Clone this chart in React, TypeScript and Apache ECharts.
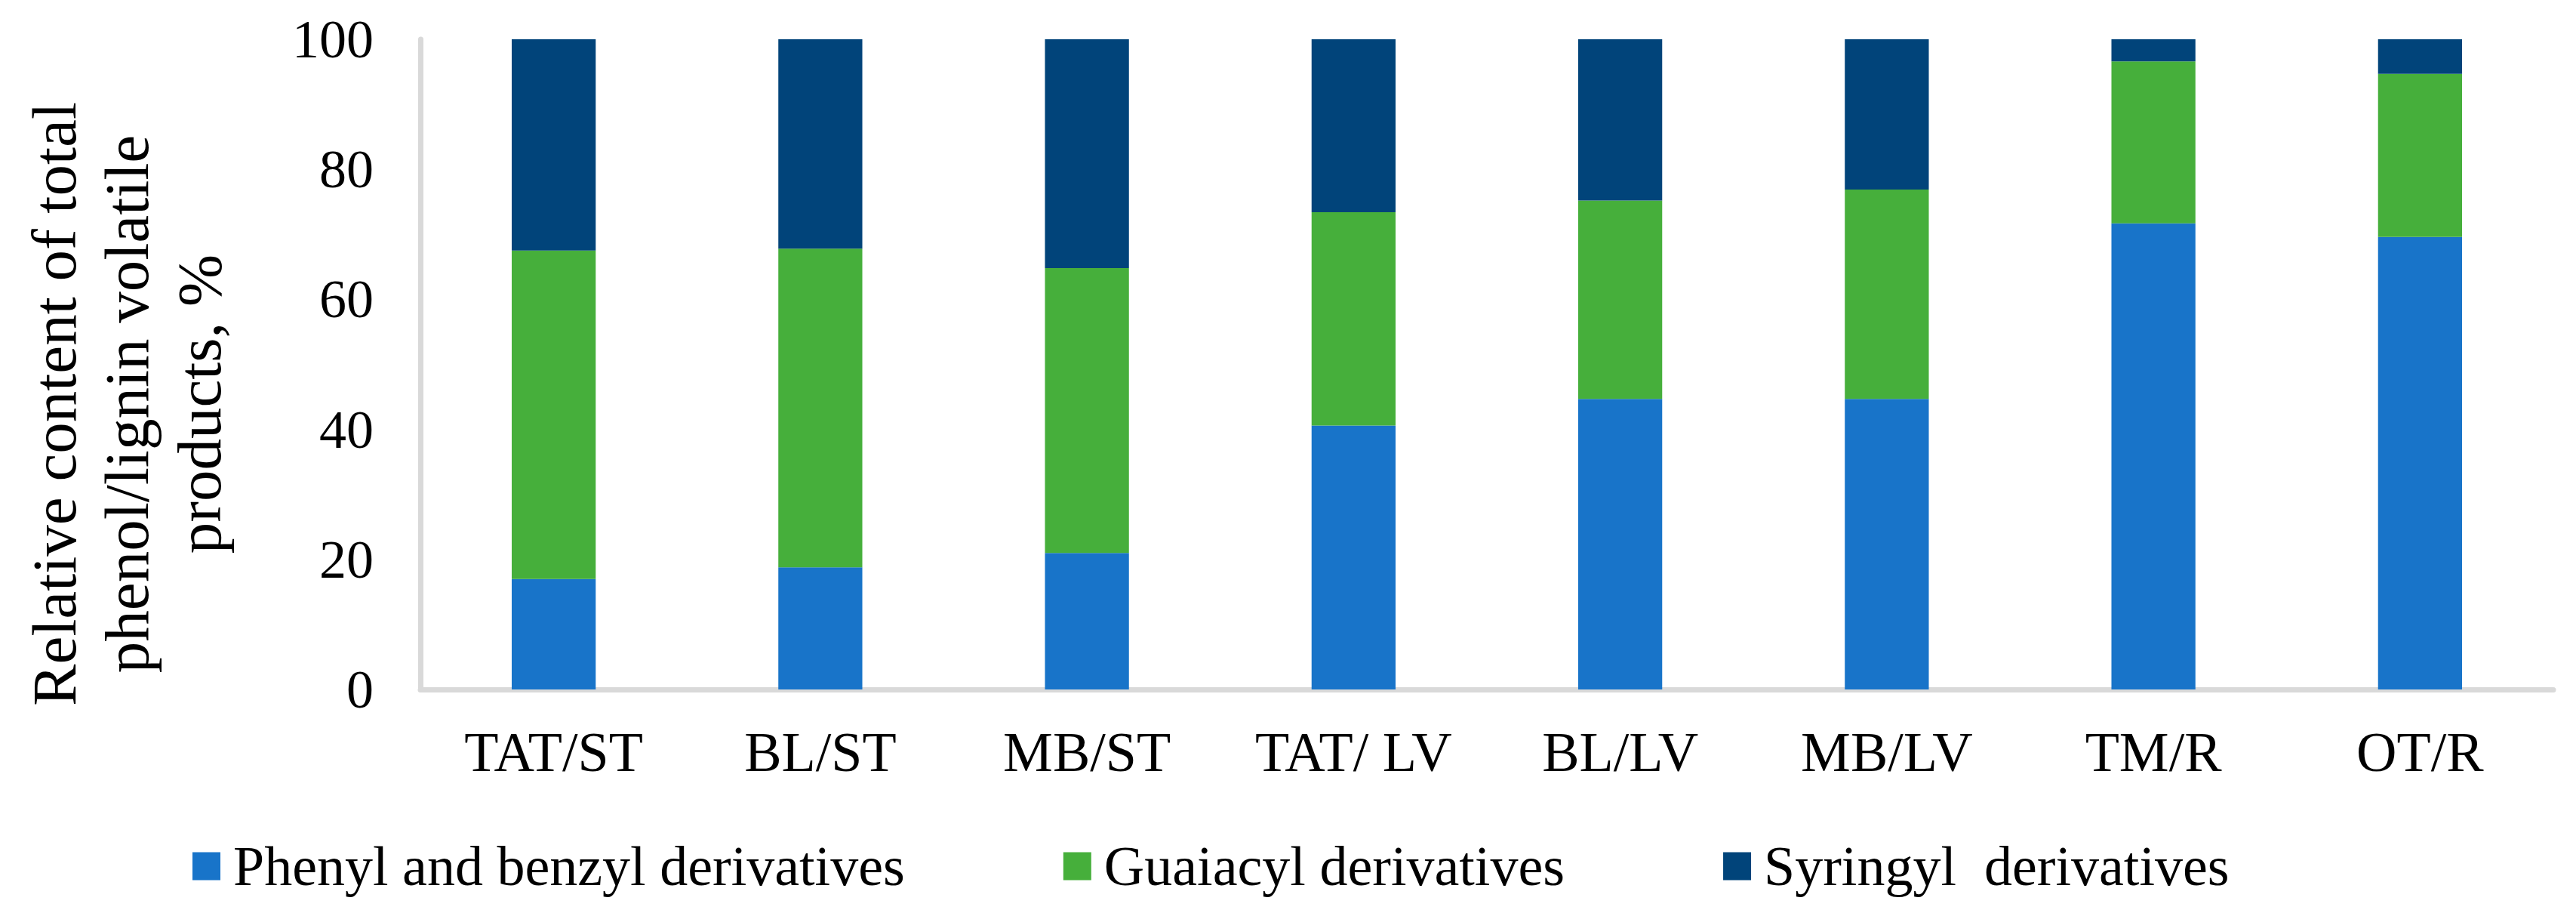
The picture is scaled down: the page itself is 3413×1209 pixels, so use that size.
import React, { useEffect, useRef } from "react";
import * as echarts from "echarts";

const categories = ["TAT/ST", "BL/ST", "MB/ST", "TAT/ LV", "BL/LV", "MB/LV", "TM/R", "OT/R"];
const seriesNames = ["Phenyl and benzyl derivatives", "Guaiacyl derivatives", "Syringyl  derivatives"];
const phenyl = [17.0, 18.8, 21.0, 40.6, 44.7, 44.7, 71.7, 69.6];
const guaiacyl = [50.5, 49.0, 43.8, 32.8, 30.5, 32.2, 24.9, 25.1];
const syringyl = [32.5, 32.2, 35.2, 26.6, 24.8, 23.1, 3.4, 5.3];
const yTicks = { min: 0, max: 100, interval: 20 };
const yTitle = ["Relative content of total", "phenol/lignin volatile", "products, %"];

const colors = ["#1874C9", "#46AF3B", "#01447A"];
const FONT = "Liberation Serif";

export default function App() {
  const ref = useRef<HTMLDivElement>(null);
  useEffect(() => {
    document.body.style.margin = "0";
    if (!ref.current) return;
    const chart = echarts.init(ref.current, undefined, { renderer: "svg" });
    const values = [phenyl, guaiacyl, syringyl];
    chart.setOption({
      animation: false,
      backgroundColor: "#ffffff",
      textStyle: { fontFamily: FONT },
      grid: { left: 557, right: 30, top: 52, bottom: 296, containLabel: false },
      legend: {
        left: 250,
        top: 1105,
        itemWidth: 37,
        itemHeight: 37,
        itemGap: 210,
        icon: "rect",
        formatter: (name: string) => "{a|" + name + "}",
        textStyle: {
          fontFamily: FONT,
          fontSize: 74,
          color: "#000",
          rich: { a: { fontFamily: FONT, fontSize: 74, color: "#000", padding: [0, 0, 0, 12] } },
        },
        data: seriesNames,
      },
      xAxis: {
        type: "category",
        data: categories,
        axisLine: { show: true, lineStyle: { color: "#d9d9d9", width: 7 } },
        axisTick: { show: false },
        axisLabel: { fontFamily: FONT, fontSize: 74, color: "#000", margin: 46, interval: 0 },
        splitLine: { show: false },
      },
      yAxis: {
        type: "value",
        min: yTicks.min,
        max: yTicks.max,
        interval: yTicks.interval,
        axisLine: { show: true, lineStyle: { color: "#d9d9d9", width: 7 } },
        axisTick: { show: false },
        splitLine: { show: false },
        axisLabel: { fontFamily: FONT, fontSize: 72, color: "#000", margin: 62 },
      },
      graphic: [
        {
          type: "text",
          x: 168,
          y: 535,
          rotation: Math.PI / 2,
          style: {
            text: yTitle.join("\n"),
            font: "83px " + FONT,
            fontFamily: FONT,
            fontSize: 83,
            lineHeight: 96,
            fill: "#000",
            align: "center",
            verticalAlign: "middle",
          },
        },
      ],
      series: values.map((v, i) => ({
        name: seriesNames[i],
        type: "bar",
        stack: "total",
        barWidth: "31.5%",
        itemStyle: { color: colors[i] },
        data: v,
      })),
    });
    return () => chart.dispose();
  }, []);
  return <div ref={ref} style={{ width: 3413, height: 1209 }} />;
}
